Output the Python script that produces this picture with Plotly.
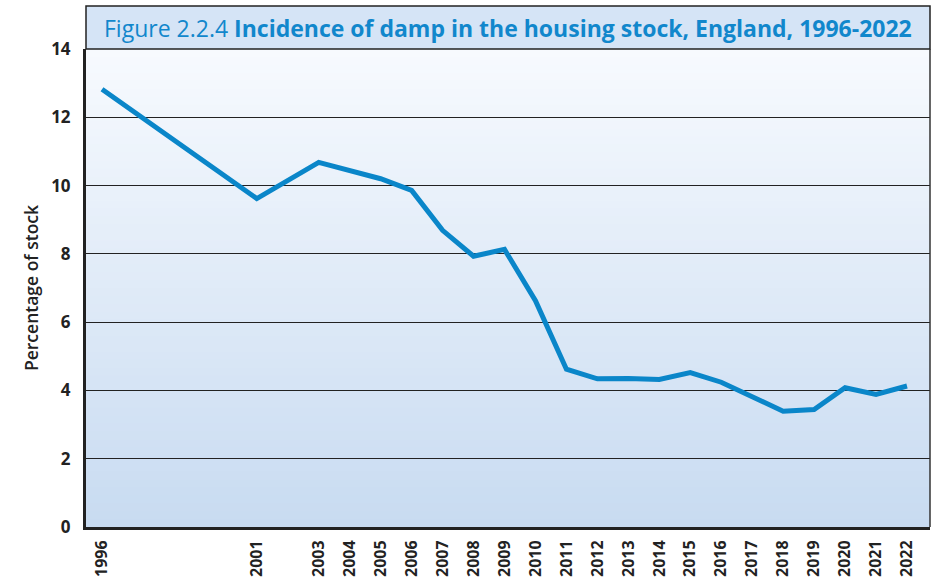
import plotly.graph_objects as go

years = [1996, 2001, 2003, 2004, 2005, 2006, 2007, 2008, 2009, 2010, 2011,
         2012, 2013, 2014, 2015, 2016, 2017, 2018, 2019, 2020, 2021, 2022]
damp_pct = [12.82, 9.62, 10.68, 10.45, 10.2, 9.86, 8.69, 7.93, 8.13, 6.63, 4.62,
            4.34, 4.35, 4.32, 4.52, 4.24, 3.81, 3.39, 3.44, 4.08, 3.88, 4.13]
tick_labels = [str(y) for y in years]
y_ticks = [0, 2, 4, 6, 8, 10, 12, 14]

title_text = ("Figure 2.2.4 <b>Incidence of damp in the housing stock, "
              "England, 1996-2022</b>")

W, H = 931, 582
ML, MR, MT, MB = 86, 1, 49, 55
plot_h = H - MT - MB
box_h = 43 / plot_h

fig = go.Figure()
fig.add_trace(go.Scatter(
    x=years, y=damp_pct, mode="lines",
    line=dict(color="#0a86c9", width=5),
    hoverinfo="x+y", showlegend=False,
))

shapes = []
# vertical gradient background
top = (247, 250, 254)
bot = (200, 219, 241)
n = 60
for i in range(n):
    t = i / (n - 1)
    c = tuple(round(bot[k] + (top[k] - bot[k]) * t) for k in range(3))
    shapes.append(dict(type="rect", xref="paper", yref="paper",
                       x0=0, x1=1, y0=i / n, y1=(i + 1) / n + 0.002,
                       fillcolor="rgb(%d,%d,%d)" % c, line=dict(width=0),
                       layer="below"))
# title box
shapes.append(dict(type="rect", xref="paper", yref="paper",
                   x0=0, x1=1, y0=1, y1=1 + box_h,
                   fillcolor="#d5e4f6", line=dict(color="#222222", width=1.5),
                   layer="above"))
# right border
shapes.append(dict(type="line", xref="paper", yref="paper",
                   x0=1, x1=1, y0=0, y1=1,
                   line=dict(color="#333333", width=1.5), layer="above"))

fig.update_layout(
    width=W, height=H,
    margin=dict(l=ML, r=MR, t=MT, b=MB, autoexpand=False),
    paper_bgcolor="white",
    plot_bgcolor="#e4ecf7",
    shapes=shapes,
    font=dict(family="Open Sans", color="#222222"),
    annotations=[dict(
        text=title_text, xref="paper", yref="paper",
        x=0.5, y=1 + box_h / 2, xanchor="center", yanchor="middle",
        showarrow=False, font=dict(family="Open Sans", size=23, color="#1187cc"),
    )],
    xaxis=dict(
        range=[1995.483, 2022.743], automargin=False,
        tickmode="array", tickvals=years, ticktext=tick_labels,
        tickangle=-90, showgrid=False, zeroline=False,
        showline=True, linecolor="#222222", linewidth=3,
        ticks="", ticklabelstandoff=4,
        tickfont=dict(family="Open Sans", size=16, color="#222222", weight="bold"),
    ),
    yaxis=dict(
        range=[0, 14], tickmode="array", tickvals=y_ticks, automargin=False,
        showgrid=True, gridcolor="#222222", gridwidth=1,
        zeroline=False, showline=True, linecolor="#222222", linewidth=3,
        ticks="", ticklabelstandoff=9,
        tickfont=dict(family="Open Sans", size=17, color="#222222", weight="bold"),
        title=dict(text="Percentage of stock", standoff=9,
                   font=dict(family="Open Sans", size=17.5, color="#222222",
                             weight=600)),
    ),
)

fig.write_html("out.html",
               config={"displayModeBar": False},
               post_script="document.body.style.margin='0px';"
                           "document.body.style.overflow='hidden';")
